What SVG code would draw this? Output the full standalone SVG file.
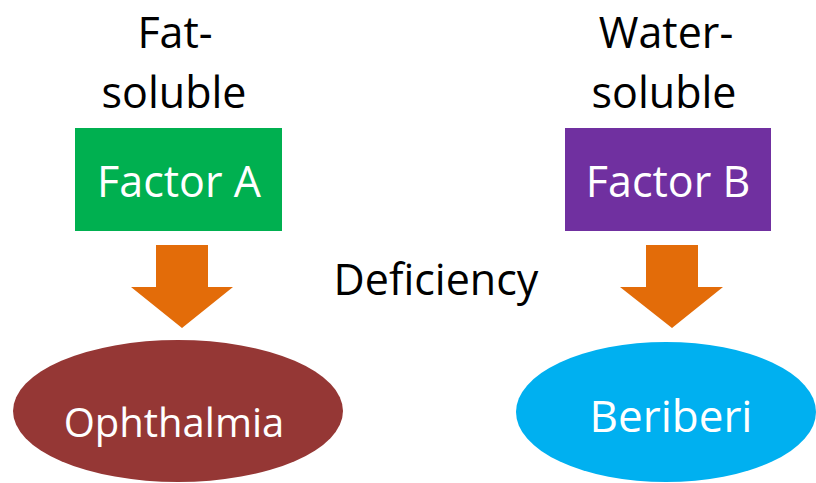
<svg xmlns="http://www.w3.org/2000/svg" width="816" height="483" viewBox="0 0 816 483">
<defs>
<style>
text{font-family:"Open Sans","Liberation Sans",sans-serif;font-size:43px;text-anchor:middle}
.dark{fill:#000}
.light{fill:#fff}
.arrow{fill:#E36C09}
</style>
</defs>
<rect width="816" height="483" fill="#fff"/>
<g id="label-fat">
<text class="dark" x="175" y="48">Fat-</text>
<text class="dark" x="174" y="108">soluble</text>
</g>
<g id="label-water">
<text class="dark" x="666" y="48">Water-</text>
<text class="dark" x="664" y="108">soluble</text>
</g>
<g id="factor-a">
<rect x="75" y="128" width="207" height="103" fill="#00B050"/>
<text class="light" x="179" y="197">Factor A</text>
</g>
<g id="factor-b">
<rect x="565" y="128" width="206" height="103" fill="#7030A0"/>
<text class="light" x="668" y="197">Factor B</text>
</g>
<g id="connectors">
<polygon class="arrow" points="156,245 208,245 208,287 233,287 182,328 131,287 156,287"/>
<polygon class="arrow" points="646,245 698,245 698,287 723,287 672,328 620,287 646,287"/>
</g>
<g id="label-deficiency">
<text class="dark" x="436" y="295">Deficiency</text>
</g>
<g id="ophthalmia">
<ellipse cx="178" cy="411" rx="165" ry="71" fill="#953735"/>
<text class="light" x="174" y="437" style="font-size:40px">Ophthalmia</text>
</g>
<g id="beriberi">
<ellipse cx="666" cy="412" rx="150" ry="70" fill="#00B0F0"/>
<text class="light" x="671" y="432" style="font-size:44px">Beriberi</text>
</g>
</svg>
